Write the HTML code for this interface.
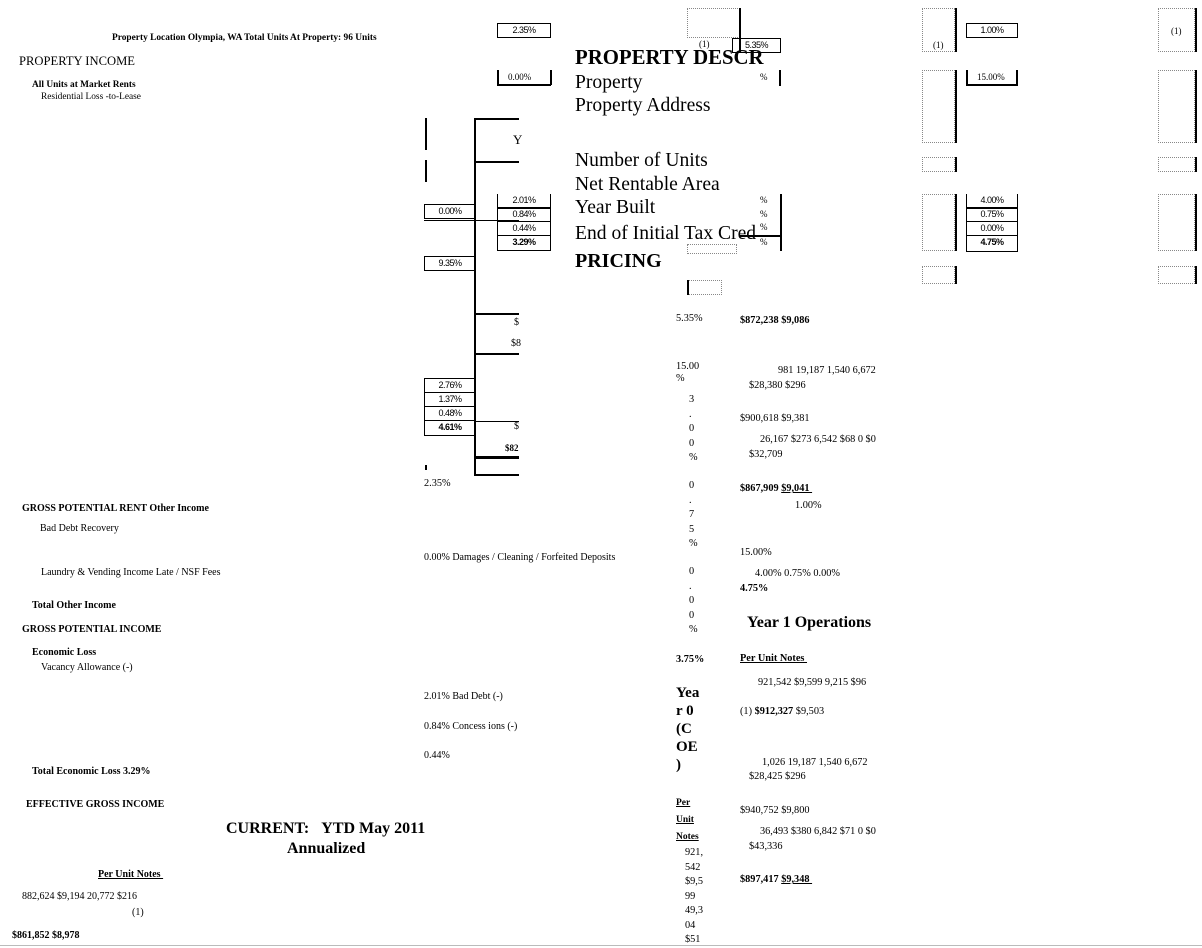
<!DOCTYPE html>
<html><head><meta charset="utf-8"><style>
body{margin:0;width:1202px;height:948px;background:#fff;position:relative;overflow:hidden;font-family:"Liberation Serif",serif;color:#000}
.t{position:absolute;white-space:nowrap;font-size:10.3px;line-height:1}
.s{font-size:10px}
.b{font-weight:bold}
.u{text-decoration:underline}
.bx{position:absolute;border:1.5px solid #000;box-sizing:border-box;font-size:9px;text-align:center;line-height:12px;font-family:"Liberation Sans Narrow","Liberation Sans",sans-serif;letter-spacing:-0.5px}
.ln{position:absolute;background:#000}
.dt{position:absolute;border:1px dotted #888;box-sizing:border-box}
.big{font-size:19.6px}
</style></head><body>

<div class="t b" style="left:112px;top:34px;font-size:9.4px">Property Location Olympia, WA Total Units At Property: 96 Units</div>
<div class="t" style="left:19px;top:55px;font-size:12.6px">PROPERTY INCOME</div>
<div class="t b" style="left:32px;top:81px;font-size:9.4px">All Units at Market Rents</div>
<div class="t" style="left:41px;top:93px;font-size:9.4px">Residential Loss -to-Lease</div>

<div class="bx" style="left:497px;top:23px;width:54px;height:15px">2.35%</div>
<div class="ln" style="left:497px;top:70px;width:1.5px;height:15px"></div>
<div class="ln" style="left:550px;top:70px;width:1.5px;height:15px"></div>
<div class="ln" style="left:497px;top:84px;width:54px;height:1.5px"></div>
<div class="t" style="left:508px;top:73px;font-size:9px">0.00%</div>

<div class="ln" style="left:425px;top:118px;width:1.5px;height:32px"></div>
<div class="ln" style="left:425px;top:160px;width:1.5px;height:22px"></div>
<div class="ln" style="left:474px;top:118px;width:2px;height:358px"></div>
<div class="ln" style="left:474px;top:118px;width:45px;height:2px"></div>
<div class="ln" style="left:474px;top:161px;width:45px;height:2px"></div>
<div class="ln" style="left:474px;top:313px;width:45px;height:1.5px"></div>
<div class="ln" style="left:474px;top:353px;width:45px;height:1.5px"></div>
<div class="ln" style="left:474px;top:421px;width:45px;height:1px"></div>
<div class="ln" style="left:474px;top:456px;width:45px;height:3px"></div>
<div class="ln" style="left:474px;top:474px;width:45px;height:1.5px"></div>
<div class="ln" style="left:424px;top:220px;width:95px;height:1px"></div>
<div class="t" style="left:513px;top:133px;font-size:13px">Y</div>
<div class="t" style="left:514px;top:318px;font-size:10px">$</div>
<div class="t" style="left:511px;top:339px;font-size:10px">$8</div>
<div class="t" style="left:514px;top:422px;font-size:10px">$</div>
<div class="t b" style="left:505px;top:444px;font-size:9px">$82</div>

<div class="bx" style="left:497px;top:194px;width:54px;height:15px;border-top:none">2.01%</div>
<div class="bx" style="left:497px;top:207px;width:54px;height:15px">0.84%</div>
<div class="bx" style="left:497px;top:221px;width:54px;height:15px">0.44%</div>
<div class="bx b" style="left:497px;top:235px;width:54px;height:16px">3.29%</div>
<div class="bx" style="left:424px;top:204px;width:52px;height:15px">0.00%</div>
<div class="bx" style="left:424px;top:256px;width:52px;height:15px">9.35%</div>
<div class="bx" style="left:424px;top:378px;width:52px;height:15px">2.76%</div>
<div class="bx" style="left:424px;top:392px;width:52px;height:15px">1.37%</div>
<div class="bx" style="left:424px;top:406px;width:52px;height:15px">0.48%</div>
<div class="bx b" style="left:424px;top:420px;width:52px;height:16px">4.61%</div>
<div class="ln" style="left:425px;top:465px;width:1.5px;height:5px"></div>
<div class="t" style="left:424px;top:479px">2.35%</div>

<div class="dt" style="left:687px;top:8px;width:53px;height:30px"></div>
<div class="ln" style="left:739px;top:8px;width:1.5px;height:44px"></div>
<div class="t" style="left:699px;top:40px;font-size:9px">(1)</div>
<div class="t b" style="left:575px;top:48px;font-size:20.8px">PROPERTY DESCR</div>
<div class="bx" style="left:732px;top:38px;width:49px;height:15px;background:transparent">5.35%</div>
<div class="ln" style="left:779px;top:70px;width:1.5px;height:16px"></div>
<div class="t" style="left:760px;top:73px;font-size:9px">%</div>
<div class="t big" style="left:575px;top:73px">Property</div>
<div class="t big" style="left:575px;top:96px">Property Address</div>
<div class="t big" style="left:575px;top:151px">Number of Units</div>
<div class="t big" style="left:575px;top:175px">Net Rentable Area</div>
<div class="t big" style="left:575px;top:198px">Year Built</div>
<div class="t big" style="left:575px;top:224px">End of Initial Tax Cred</div>
<div class="t b" style="left:575px;top:251px;font-size:20px">PRICING</div>
<div class="ln" style="left:780px;top:194px;width:1.5px;height:57px"></div>
<div class="t" style="left:760px;top:196px;font-size:9px">%</div>
<div class="t" style="left:760px;top:210px;font-size:9px">%</div>
<div class="t" style="left:760px;top:223px;font-size:9px">%</div>
<div class="t" style="left:760px;top:238px;font-size:9px">%</div>
<div class="ln" style="left:740px;top:235px;width:41px;height:1.5px"></div>
<div class="dt" style="left:687px;top:244px;width:50px;height:10px"></div>
<div class="dt" style="left:687px;top:280px;width:35px;height:15px"></div>
<div class="ln" style="left:687px;top:280px;width:1.5px;height:15px"></div>

<div class="dt" style="left:922px;top:8px;width:33px;height:44px"></div>
<div class="ln" style="left:955px;top:8px;width:1.5px;height:44px"></div>
<div class="t" style="left:933px;top:41px;font-size:9px">(1)</div>
<div class="bx" style="left:966px;top:23px;width:52px;height:15px">1.00%</div>
<div class="dt" style="left:922px;top:70px;width:33px;height:73px"></div>
<div class="ln" style="left:955px;top:70px;width:1.5px;height:73px"></div>
<div class="ln" style="left:966px;top:70px;width:1.5px;height:15px"></div>
<div class="ln" style="left:1016px;top:70px;width:1.5px;height:15px"></div>
<div class="ln" style="left:966px;top:84px;width:52px;height:1.5px"></div>
<div class="t" style="left:977px;top:73px;font-size:9px">15.00%</div>
<div class="dt" style="left:922px;top:157px;width:33px;height:15px"></div>
<div class="ln" style="left:955px;top:157px;width:1.5px;height:15px"></div>
<div class="dt" style="left:922px;top:194px;width:33px;height:57px"></div>
<div class="ln" style="left:955px;top:194px;width:1.5px;height:57px"></div>
<div class="bx" style="left:966px;top:194px;width:52px;height:15px;border-top:none">4.00%</div>
<div class="bx" style="left:966px;top:207px;width:52px;height:15px">0.75%</div>
<div class="bx" style="left:966px;top:221px;width:52px;height:15px">0.00%</div>
<div class="bx b" style="left:966px;top:235px;width:52px;height:17px">4.75%</div>
<div class="dt" style="left:922px;top:266px;width:33px;height:18px"></div>
<div class="ln" style="left:955px;top:266px;width:1.5px;height:18px"></div>

<div class="dt" style="left:1158px;top:8px;width:37px;height:44px"></div>
<div class="ln" style="left:1195px;top:8px;width:1.5px;height:44px"></div>
<div class="t" style="left:1171px;top:27px;font-size:9px">(1)</div>
<div class="dt" style="left:1158px;top:70px;width:37px;height:73px"></div>
<div class="ln" style="left:1195px;top:70px;width:1.5px;height:73px"></div>
<div class="dt" style="left:1158px;top:157px;width:37px;height:15px"></div>
<div class="ln" style="left:1195px;top:157px;width:1.5px;height:15px"></div>
<div class="dt" style="left:1158px;top:194px;width:37px;height:57px"></div>
<div class="ln" style="left:1195px;top:194px;width:1.5px;height:57px"></div>
<div class="dt" style="left:1158px;top:266px;width:37px;height:18px"></div>
<div class="ln" style="left:1195px;top:266px;width:1.5px;height:18px"></div>

<div class="t" style="left:676px;top:314px">5.35%</div>
<div class="t" style="left:676px;top:361px;line-height:12px">15.00<br>%</div>
<div class="t" style="left:689px;top:393px;line-height:14.5px">3<br>.<br>0<br>0<br>%</div>
<div class="t" style="left:689px;top:479px;line-height:14.5px">0<br>.<br>7<br>5<br>%</div>
<div class="t" style="left:689px;top:565px;line-height:14.5px">0<br>.<br>0<br>0<br>%</div>
<div class="t b" style="left:676px;top:655px">3.75%</div>
<div class="t b" style="left:676px;top:684px;font-size:15px;line-height:18px">Yea<br>r 0<br>(C<br>OE<br>)</div>
<div class="t b u" style="left:676px;top:795px;font-size:9.5px;line-height:17px">Per<br>Unit<br>Notes</div>
<div class="t" style="left:685px;top:846px;line-height:14.5px">921,<br>542<br>$9,5<br>99<br>49,3<br>04<br>$51</div>

<div class="t b" style="left:740px;top:316px">$872,238 $9,086</div>
<div class="t" style="left:778px;top:366px">981 19,187 1,540 6,672</div>
<div class="t" style="left:749px;top:381px">$28,380 $296</div>
<div class="t" style="left:740px;top:414px">$900,618 $9,381</div>
<div class="t" style="left:760px;top:435px">26,167 $273 6,542 $68 0 $0</div>
<div class="t" style="left:749px;top:450px">$32,709</div>
<div class="t b" style="left:740px;top:484px">$867,909 <span class="u">$9,041&nbsp;</span></div>
<div class="t" style="left:795px;top:501px">1.00%</div>
<div class="t" style="left:740px;top:548px">15.00%</div>
<div class="t" style="left:755px;top:569px">4.00% 0.75% 0.00%</div>
<div class="t b" style="left:740px;top:584px">4.75%</div>
<div class="t b" style="left:747px;top:615px;font-size:16px">Year 1 Operations</div>
<div class="t b u" style="left:740px;top:654px">Per Unit Notes&nbsp;</div>
<div class="t" style="left:758px;top:678px">921,542 $9,599 9,215 $96</div>
<div class="t" style="left:740px;top:707px">(1) <b>$912,327</b> $9,503</div>
<div class="t" style="left:762px;top:758px">1,026 19,187 1,540 6,672</div>
<div class="t" style="left:749px;top:772px">$28,425 $296</div>
<div class="t" style="left:740px;top:806px">$940,752 $9,800</div>
<div class="t" style="left:760px;top:827px">36,493 $380 6,842 $71 0 $0</div>
<div class="t" style="left:749px;top:842px">$43,336</div>
<div class="t b" style="left:740px;top:875px">$897,417 <span class="u">$9,348&nbsp;</span></div>

<div class="t b s" style="left:22px;top:504px">GROSS POTENTIAL RENT Other Income</div>
<div class="t s" style="left:40px;top:524px">Bad Debt Recovery</div>
<div class="t s" style="left:424px;top:553px">0.00% Damages / Cleaning / Forfeited Deposits</div>
<div class="t s" style="left:41px;top:568px">Laundry &amp; Vending Income Late / NSF Fees</div>
<div class="t b s" style="left:32px;top:601px">Total Other Income</div>
<div class="t b s" style="left:22px;top:625px">GROSS POTENTIAL INCOME</div>
<div class="t b s" style="left:32px;top:648px">Economic Loss</div>
<div class="t s" style="left:41px;top:663px">Vacancy Allowance (-)</div>
<div class="t s" style="left:424px;top:692px">2.01% Bad Debt (-)</div>
<div class="t s" style="left:424px;top:722px">0.84% Concess ions (-)</div>
<div class="t s" style="left:424px;top:751px">0.44%</div>
<div class="t b s" style="left:32px;top:767px">Total Economic Loss 3.29%</div>
<div class="t b s" style="left:26px;top:800px">EFFECTIVE GROSS INCOME</div>
<div class="t b" style="left:226px;top:821px;font-size:16px">CURRENT:&nbsp;&nbsp;&nbsp;YTD May 2011</div>
<div class="t b" style="left:287px;top:841px;font-size:16px">Annualized</div>
<div class="t b u s" style="left:98px;top:870px">Per Unit Notes&nbsp;</div>
<div class="t s" style="left:22px;top:892px">882,624 $9,194 20,772 $216</div>
<div class="t s" style="left:132px;top:908px">(1)</div>
<div class="t b s" style="left:12px;top:931px">$861,852 $8,978</div>
<div class="ln" style="left:0;top:945px;width:1202px;height:1px;background:#bbb"></div>
</body></html>
